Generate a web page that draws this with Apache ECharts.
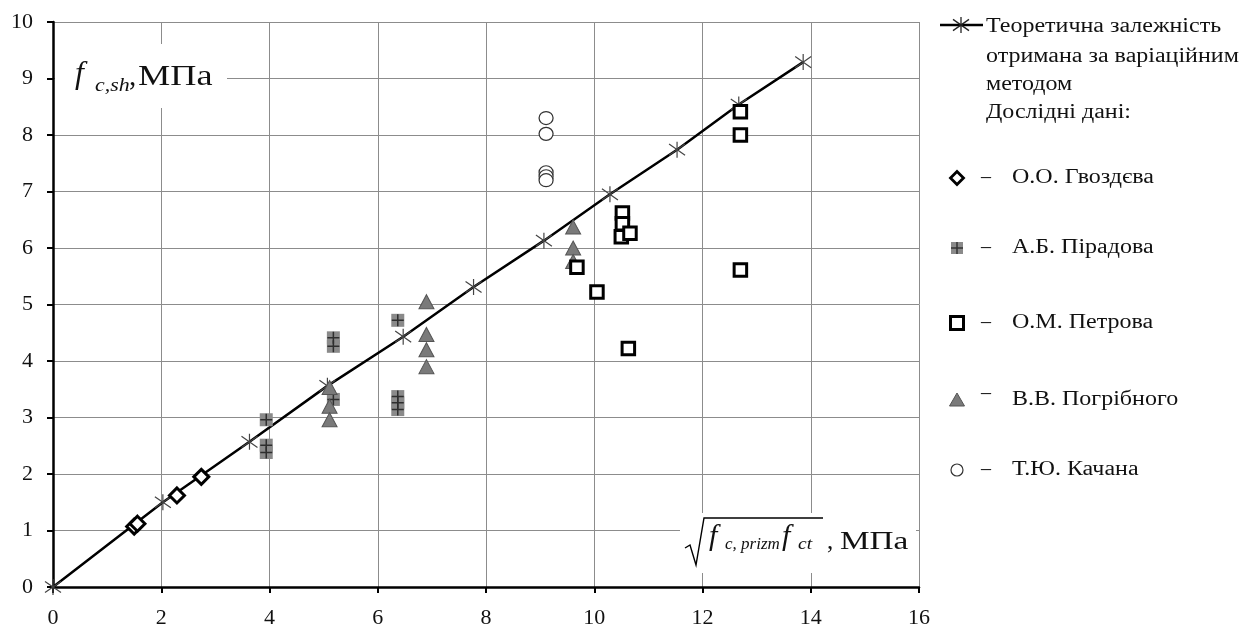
<!DOCTYPE html>
<html>
<head>
<meta charset="utf-8">
<script src="https://cdn.jsdelivr.net/npm/echarts@6/dist/echarts.min.js"></script>
<style>html,body{margin:0;padding:0;background:#fff}#c{width:1247px;height:633px}</style>
</head>
<body>
<div id="c"></div>
<script>
// ---- data ----
const xTicks = [0, 2, 4, 6, 8, 10, 12, 14, 16];
const yTicks = [0, 1, 2, 3, 4, 5, 6, 7, 8, 9, 10];
const theoX = [0, 2.03, 3.63, 5.07, 6.47, 7.77, 9.07, 10.29, 11.53, 12.67, 13.86];
const theoY = [0, 1.5, 2.57, 3.56, 4.43, 5.31, 6.13, 6.95, 7.74, 8.54, 9.29];
const gvozdeva = [[1.5, 1.07], [1.56, 1.12], [2.29, 1.62], [2.74, 1.95]];
const piradova = [[3.94, 2.96], [3.94, 2.51], [3.94, 2.38], [5.18, 4.41], [5.18, 4.26], [5.18, 3.32],
                  [6.37, 4.72], [6.37, 3.37], [6.37, 3.26], [6.37, 3.14]];
const petrova = [[9.68, 5.66], [10.05, 5.22], [10.63, 4.22], [10.52, 6.62], [10.52, 6.43], [10.5, 6.2],
                 [10.66, 6.26], [12.7, 8.41], [12.7, 8.0], [12.7, 5.61]];
const pogribnogo = [[5.11, 3.53], [5.11, 3.2], [5.11, 2.96], [6.9, 5.05], [6.9, 4.47], [6.9, 4.2], [6.9, 3.9],
                    [9.61, 6.37], [9.61, 6.0], [9.61, 5.76]];
const kachana = [[9.11, 8.3], [9.11, 8.02], [9.11, 7.34], [9.11, 7.27], [9.11, 7.2]];
const legendNames = ['О.О. Гвоздєва', 'А.Б. Пірадова', 'О.М. Петрова', 'В.В. Погрібного', 'Т.Ю. Качана'];
const legendTheory = ['Теоретична залежність', 'отримана за варіаційним', 'методом', 'Дослідні дані:'];

const SERIF = '"Liberation Serif", "DejaVu Serif", serif';
const STAR = 'path://M0,-10L0,10M-10,-7L10,7M-10,7L10,-7';
const PLUS = 'path://M0,-10L0,10M-10,0L10,0';

const chart = echarts.init(document.getElementById('c'), null, {renderer: 'canvas'});

const theoData = theoX.map((x, i) => [x, theoY[i]]);

function seg(x1, y1, x2, y2, color, w) {
  return {type: 'line', shape: {x1: x1, y1: y1, x2: x2, y2: y2}, style: {stroke: color, lineWidth: w}};
}
function txt(t, x, y, font, opts) {
  const o = {type: 'text', x: x, y: y, z: 11, style: {text: t, font: font, fill: '#111', verticalAlign: 'middle', align: 'left'}};
  if (opts && opts.scaleX) o.scaleX = opts.scaleX;
  return o;
}

// legend graphics
const lg = [];
const LX = 957;
const rowsY = [178, 248, 323, 400, 470];
lg.push(seg(940, 25, 983, 25, '#000', 2.5));
const sx = 961, sy = 25;
lg.push(seg(sx, sy - 8, sx, sy + 8, '#222', 1.3));
lg.push(seg(sx - 8, sy - 5.6, sx + 8, sy + 5.6, '#222', 1.3));
lg.push(seg(sx - 8, sy + 5.6, sx + 8, sy - 5.6, '#222', 1.3));
const theoRowY = [27, 57, 85, 113];
legendTheory.forEach((t, i) => {
  lg.push(txt(t, 986, theoRowY[i], '20px ' + SERIF, {scaleX: 1.2}));
});
// icons
lg.push({type: 'polygon', shape: {points: [[LX, rowsY[0] - 6.5], [LX + 6.5, rowsY[0]], [LX, rowsY[0] + 6.5], [LX - 6.5, rowsY[0]]]}, style: {fill: '#fff', stroke: '#000', lineWidth: 2.8}});
lg.push({type: 'rect', shape: {x: LX - 6, y: rowsY[1] - 6, width: 12, height: 12}, style: {fill: '#8a8a8a'}});
lg.push(seg(LX, rowsY[1] - 6, LX, rowsY[1] + 6, '#333', 1.5));
lg.push(seg(LX - 6, rowsY[1], LX + 6, rowsY[1], '#333', 1.5));
lg.push({type: 'rect', shape: {x: LX - 6.5, y: rowsY[2] - 6.5, width: 13, height: 13}, style: {fill: '#fff', stroke: '#000', lineWidth: 3}});
lg.push({type: 'polygon', shape: {points: [[LX, rowsY[3] - 7], [LX + 7.5, rowsY[3] + 6], [LX - 7.5, rowsY[3] + 6]]}, style: {fill: '#7a7a7a', stroke: '#555', lineWidth: 1}});
lg.push({type: 'circle', shape: {cx: LX, cy: rowsY[4], r: 6}, style: {fill: '#fff', stroke: '#333', lineWidth: 1.2}});
legendNames.forEach((t, i) => {
  const dashY = i === 3 ? rowsY[i] - 6 : rowsY[i];
  lg.push(txt('–', 981, dashY, '20px ' + SERIF));
  lg.push(txt(t, 1012, rowsY[i], '20px ' + SERIF, {scaleX: 1.2}));
});

// axis titles
const titles = [
  {type: 'rect', shape: {x: 55, y: 44, width: 172, height: 64}, style: {fill: '#fff'}, z: 10},
  txt('f', 75, 75, 'italic 32px ' + SERIF),
  txt('c,sh', 95, 86, 'italic 19px ' + SERIF, {scaleX: 1.15}),
  txt(',', 129, 77, '29px ' + SERIF),
  txt('МПа', 138, 77, '29px ' + SERIF, {scaleX: 1.25}),
  {type: 'rect', shape: {x: 680, y: 513, width: 236, height: 60}, style: {fill: '#fff'}, z: 10},
  {type: 'polyline', z: 11, shape: {points: [[685, 548], [690, 545], [696, 565], [704, 518], [823, 518]]}, style: {stroke: '#000', lineWidth: 1.4, fill: null}},
  txt('f', 709, 537, 'italic 30px ' + SERIF),
  txt('c, prizm', 725, 545, 'italic 17px ' + SERIF),
  txt('f', 782, 537, 'italic 30px ' + SERIF),
  txt('ct', 798, 545, 'italic 17px ' + SERIF, {scaleX: 1.15}),
  txt(',', 827, 542, '25px ' + SERIF),
  txt('МПа', 840, 542, '25px ' + SERIF, {scaleX: 1.33})
];

const option = {
  animation: false,
  backgroundColor: '#fff',
  grid: {left: 53, right: 328, top: 22, bottom: 46, containLabel: false},
  xAxis: {
    type: 'value', min: xTicks[0], max: xTicks[xTicks.length - 1], interval: 2,
    axisLine: {show: true, onZero: false, lineStyle: {color: '#000', width: 2.5}},
    axisTick: {show: true, length: 6, lineStyle: {color: '#000', width: 2}},
    axisLabel: {color: '#111', fontFamily: SERIF, fontSize: 22, margin: 20},
    splitLine: {show: true, lineStyle: {color: '#8c8c8c', width: 1}}
  },
  yAxis: {
    type: 'value', min: yTicks[0], max: yTicks[yTicks.length - 1], interval: 1,
    axisLine: {show: true, onZero: false, lineStyle: {color: '#000', width: 2.5}},
    axisTick: {show: true, length: 6, lineStyle: {color: '#000', width: 2}},
    axisLabel: {color: '#111', fontFamily: SERIF, fontSize: 22, margin: 20},
    splitLine: {show: true, lineStyle: {color: '#8c8c8c', width: 1}}
  },
  graphic: lg.concat(titles),
  series: [
    {name: 'Теоретична залежність', type: 'line', data: theoData, symbol: STAR, symbolSize: 16,
     showAllSymbol: true, lineStyle: {color: '#000', width: 2.5},
     itemStyle: {color: 'rgba(0,0,0,0)', borderColor: '#444', borderWidth: 1.2}, z: 2},
    {name: legendNames[1], type: 'scatter', data: piradova, symbol: 'rect', symbolSize: 13,
     itemStyle: {color: '#8a8a8a', opacity: 1}, z: 3},
    {name: legendNames[1] + ' +', type: 'scatter', data: piradova, symbol: PLUS, symbolSize: 12,
     itemStyle: {color: 'rgba(0,0,0,0)', borderColor: '#2e2e2e', borderWidth: 1.5, opacity: 1}, z: 3},
    {name: legendNames[3], type: 'scatter', data: pogribnogo, symbol: 'triangle', symbolSize: [15, 14],
     itemStyle: {color: '#7a7a7a', borderColor: '#555', borderWidth: 1, opacity: 1}, z: 4},
    {name: legendNames[2], type: 'scatter', data: petrova, symbol: 'rect', symbolSize: 12.5,
     itemStyle: {color: '#fff', borderColor: '#000', borderWidth: 3, opacity: 1}, z: 5},
    {name: legendNames[0], type: 'scatter', data: gvozdeva, symbol: 'diamond', symbolSize: 15,
     itemStyle: {color: '#fff', borderColor: '#000', borderWidth: 3, opacity: 1}, z: 6},
    {name: legendNames[4], type: 'scatter', data: kachana, symbol: 'circle', symbolSize: [14, 13],
     itemStyle: {color: '#fff', borderColor: '#333', borderWidth: 1.2, opacity: 1}, z: 6}
  ]
};
chart.setOption(option);
</script>
</body>
</html>
